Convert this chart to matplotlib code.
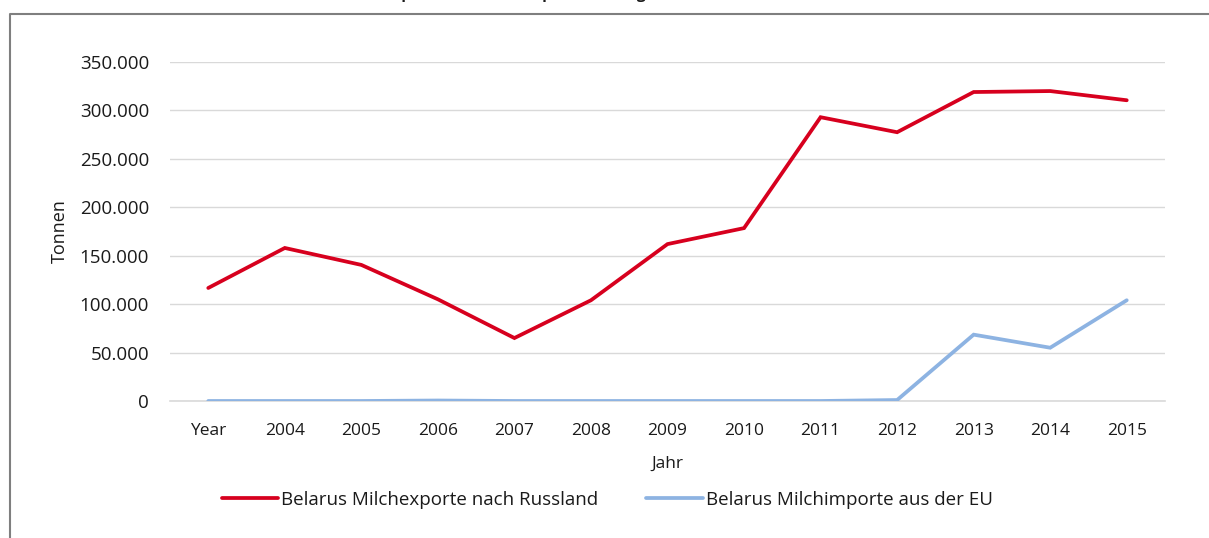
"""Belarus milk exports to Russia vs. milk imports from the EU, 2004-2015."""
import matplotlib.pyplot as plt
from matplotlib.lines import Line2D
from matplotlib.ticker import FuncFormatter, MultipleLocator

plt.rcParams["font.family"] = ["Open Sans", "DejaVu Sans"]

years = ["Year", "2004", "2005", "2006", "2007", "2008", "2009",
         "2010", "2011", "2012", "2013", "2014", "2015"]
exports_russia = [116700, 158000, 140500, 105000, 65000, 104000, 162000,
                  178500, 293000, 277500, 319000, 320000, 310500]
imports_eu = [0, 0, 0, 500, 0, 0, 0, 0, 0, 1000, 68500, 55000, 104000]

RED = "#D7001E"
BLUE = "#8DB3E2"
GRID = "#D9D9D9"
TEXT = "#1A1A1A"

W, H = 1209, 538
fig = plt.figure(figsize=(W / 100, H / 100), dpi=100)
ax = fig.add_axes([170 / W, 137 / H, 995 / W, 339 / H])

x = list(range(len(years)))
ax.plot(x, exports_russia, color=RED, lw=2.7, solid_capstyle="round",
        solid_joinstyle="miter", label="Belarus Milchexporte nach Russland")
ax.plot(x, imports_eu, color=BLUE, lw=2.7, solid_capstyle="round",
        solid_joinstyle="miter", label="Belarus Milchimporte aus der EU", zorder=3)

ax.set_xlim(-0.5, len(years) - 0.5)
ax.set_ylim(0, 350000)
ax.set_xticks(x)
ax.set_xticklabels(years)
ax.yaxis.set_major_locator(MultipleLocator(50000))
ax.yaxis.set_major_formatter(FuncFormatter(lambda v, _: f"{int(v):,}".replace(",", ".")))
ax.grid(axis="y", color=GRID, lw=1)
ax.set_axisbelow(True)
for side in ("top", "right", "left"):
    ax.spines[side].set_visible(False)
ax.spines["bottom"].set_color(GRID)
ax.spines["bottom"].set_linewidth(1.2)
ax.tick_params(axis="both", length=0, labelcolor=TEXT)
ax.tick_params(axis="y", pad=15, labelsize=13.5)
ax.tick_params(axis="x", pad=16, labelsize=12.5)

ax.set_xlabel("Jahr", fontsize=12.5, color=TEXT, labelpad=12)
ax.set_ylabel("Tonnen", fontsize=13, color=TEXT, labelpad=8)

fig.legend(loc="center", bbox_to_anchor=(607 / W, 1 - 500 / H), ncol=2,
           frameon=False, fontsize=13.5, handlelength=3.0, handletextpad=0.15,
           columnspacing=2.6, labelcolor=TEXT)

# outer chart frame (only left and top edges are visible in the crop)
fx = 9.5 / W
fy = 1 - 13.5 / H
fig.add_artist(Line2D([fx, fx, 1.0], [0.0, fy, fy], transform=fig.transFigure,
                      color="#7F7F7F", lw=1.5))

# chart title, mostly cut off by the upper edge of the picture
fig.text(512 / W, 1 + 1.5 / H, "Milchexporte und Milchimporte im Vergleich",
         ha="center", va="baseline", fontsize=11, fontweight="bold", color=TEXT)

fig.savefig("out.png", dpi=100)
